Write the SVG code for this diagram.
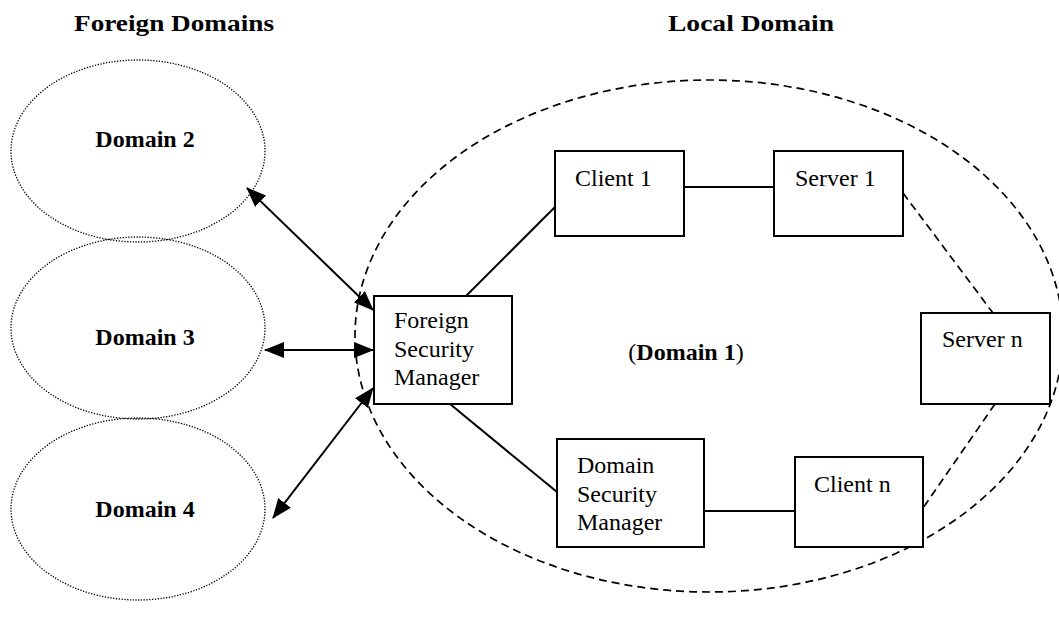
<svg xmlns="http://www.w3.org/2000/svg" width="1059" height="637" viewBox="0 0 1059 637">
  <style>
    .title { font-family: "Liberation Serif", "Times New Roman", serif; font-weight: bold; font-size: 23px; fill: #000; }
    .dlabel { font-family: "Liberation Serif", "Times New Roman", serif; font-weight: bold; font-size: 24px; fill: #000; text-anchor: middle; }
    .blabel { font-family: "Liberation Serif", "Times New Roman", serif; font-size: 24px; fill: #000; }
    .foreign { fill: none; stroke: #000; stroke-width: 1.3; stroke-dasharray: 1.3 1.5; }
    .local { fill: none; stroke: #000; stroke-width: 1.7; stroke-dasharray: 8 5; }
    .box { fill: #fff; stroke: #000; stroke-width: 2; }
    .link { stroke: #000; stroke-width: 2; fill: none; }
    .dlink { stroke: #000; stroke-width: 1.7; fill: none; stroke-dasharray: 8 5; }
    .arrow { stroke: #000; stroke-width: 2; fill: none; marker-start: url(#head); marker-end: url(#head); }
  </style>
  <defs>
    <marker id="head" markerUnits="userSpaceOnUse" markerWidth="20" markerHeight="16" refX="19" refY="8" orient="auto-start-reverse">
      <path d="M0,0 L20,8 L0,16 z" fill="#000"/>
    </marker>
  </defs>
  <rect width="1059" height="637" fill="#fff"/>

  <!-- headings -->
  <text class="title" x="74" y="31" textLength="200" lengthAdjust="spacingAndGlyphs">Foreign Domains</text>
  <text class="title" x="668" y="31" textLength="166" lengthAdjust="spacingAndGlyphs">Local Domain</text>

  <!-- foreign domains -->
  <g id="domain2">
    <ellipse class="foreign" cx="138" cy="151" rx="127" ry="91"/>
    <text class="dlabel" x="145" y="147">Domain 2</text>
  </g>
  <g id="domain3">
    <ellipse class="foreign" cx="138" cy="328" rx="127" ry="91"/>
    <text class="dlabel" x="145" y="345">Domain 3</text>
  </g>
  <g id="domain4">
    <ellipse class="foreign" cx="138" cy="509" rx="127" ry="91"/>
    <text class="dlabel" x="145" y="517">Domain 4</text>
  </g>

  <!-- local domain -->
  <g id="domain1">
    <ellipse class="local" cx="709" cy="336" rx="354" ry="256"/>
    <text class="dlabel" x="686" y="360"><tspan font-weight="normal">(</tspan>Domain 1<tspan font-weight="normal">)</tspan></text>
  </g>

  <!-- connectors -->
  <g id="connectors">
    <line class="arrow" x1="247" y1="188" x2="373" y2="310"/>
    <line class="arrow" x1="265" y1="350" x2="373" y2="350"/>
    <line class="arrow" x1="273" y1="518" x2="373" y2="388"/>
    <line class="link" x1="466" y1="296" x2="556" y2="206"/>
    <line class="link" x1="450" y1="404" x2="557" y2="492"/>
    <line class="link" x1="684" y1="187" x2="774" y2="187"/>
    <line class="link" x1="704" y1="511" x2="795" y2="511"/>
    <line class="dlink" x1="903" y1="193" x2="993" y2="313"/>
    <line class="dlink" x1="995" y1="404" x2="923" y2="508"/>
  </g>

  <!-- nodes -->
  <g id="fsm">
    <rect class="box" x="374" y="296" width="138" height="108"/>
    <text class="blabel" x="394" y="328">Foreign</text>
    <text class="blabel" x="394" y="357">Security</text>
    <text class="blabel" x="394" y="385">Manager</text>
  </g>
  <g id="client1">
    <rect class="box" x="555" y="151" width="129" height="85"/>
    <text class="blabel" x="575" y="186">Client 1</text>
  </g>
  <g id="server1">
    <rect class="box" x="774" y="151" width="129" height="85"/>
    <text class="blabel" x="795" y="186">Server 1</text>
  </g>
  <g id="servern">
    <rect class="box" x="921" y="313" width="129" height="91"/>
    <text class="blabel" x="942" y="347">Server n</text>
  </g>
  <g id="dsm">
    <rect class="box" x="557" y="439" width="147" height="108"/>
    <text class="blabel" x="577" y="473">Domain</text>
    <text class="blabel" x="577" y="502">Security</text>
    <text class="blabel" x="577" y="530">Manager</text>
  </g>
  <g id="clientn">
    <rect class="box" x="795" y="457" width="128" height="90"/>
    <text class="blabel" x="814" y="492">Client n</text>
  </g>
</svg>
